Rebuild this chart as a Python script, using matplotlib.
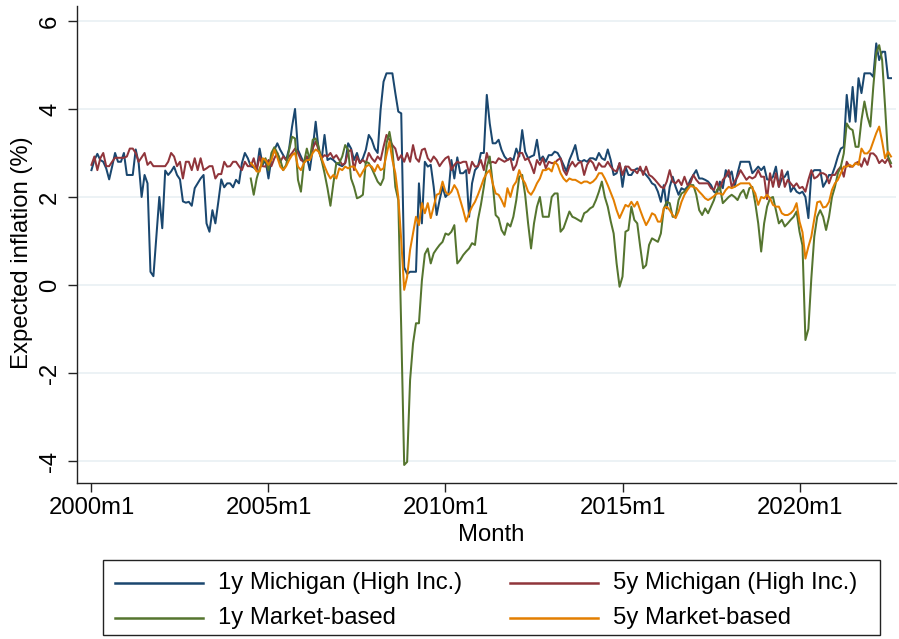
import numpy as np
import matplotlib
matplotlib.use("Agg")
import matplotlib.pyplot as plt
from matplotlib.lines import Line2D
from matplotlib.patches import Rectangle

plt.rcParams['font.family'] = ['Liberation Sans', 'DejaVu Sans']

# ---- data (monthly, 2000m1 .. 2022m8) ----
start_year = 2000
market_start = 54  # first month index with market-based data (2004m7)

mich_1y = [
    2.61, 2.84, 2.98, 2.84, 2.80, 2.65, 2.40, 2.69, 3.00, 2.80,
    2.80, 3.00, 2.50, 2.50, 2.50, 3.08, 2.77, 2.00, 2.50, 2.31,
    0.30, 0.20, 1.10, 2.00, 1.29, 2.60, 2.50, 2.58, 2.69, 2.50,
    2.40, 1.90, 1.87, 1.89, 1.80, 2.20, 2.31, 2.42, 2.50, 1.40,
    1.21, 1.70, 1.40, 1.89, 2.40, 2.22, 2.31, 2.31, 2.22, 2.39,
    2.31, 2.77, 3.00, 2.88, 2.70, 2.67, 2.61, 3.10, 2.73, 2.84,
    2.42, 2.88, 3.07, 3.22, 3.07, 2.95, 2.84, 3.10, 3.60, 4.00,
    3.07, 2.92, 2.77, 2.92, 2.61, 3.10, 3.71, 3.07, 2.84, 3.41,
    2.84, 2.88, 2.84, 2.77, 2.73, 2.70, 2.77, 3.22, 3.10, 2.84,
    3.00, 2.77, 2.88, 3.07, 3.41, 3.30, 3.10, 3.00, 3.98, 4.62,
    4.81, 4.81, 4.81, 4.36, 3.94, 3.90, 0.40, 0.25, 0.30, 0.30,
    0.30, 2.31, 1.40, 2.80, 2.69, 2.73, 2.23, 1.59, 1.93, 2.23,
    2.00, 2.08, 2.84, 2.42, 2.90, 2.54, 2.54, 2.61, 1.55, 2.31,
    2.61, 2.69, 3.00, 3.00, 4.32, 3.67, 3.22, 3.22, 3.30, 3.07,
    2.92, 2.84, 2.88, 2.84, 3.10, 2.92, 3.52, 3.03, 2.88, 2.92,
    2.95, 3.30, 2.84, 2.92, 2.80, 2.95, 2.95, 3.03, 3.00, 2.88,
    2.73, 2.58, 2.84, 3.00, 3.18, 2.84, 2.80, 2.84, 2.80, 2.88,
    2.88, 2.84, 3.00, 2.88, 2.84, 3.08, 2.84, 2.50, 2.54, 2.77,
    2.23, 2.69, 2.50, 2.50, 2.61, 2.65, 2.61, 2.58, 2.50, 2.42,
    2.31, 2.27, 2.12, 1.89, 2.27, 1.74, 2.23, 2.46, 2.23, 2.05,
    2.20, 2.16, 2.23, 2.39, 2.50, 2.61, 2.42, 2.42, 2.39, 2.35,
    2.27, 2.12, 2.08, 2.35, 2.20, 2.61, 2.46, 2.58, 2.23, 2.54,
    2.80, 2.80, 2.80, 2.80, 2.54, 2.61, 2.69, 2.61, 2.69, 2.40,
    2.39, 2.46, 2.69, 2.23, 2.42, 2.46, 2.58, 2.12, 2.23, 2.12,
    2.08, 2.12, 2.00, 1.52, 2.54, 2.61, 2.61, 2.61, 2.23, 2.35,
    2.50, 2.50, 2.69, 2.92, 3.10, 3.14, 4.32, 3.71, 4.50, 3.71,
    4.70, 4.36, 4.81, 4.81, 4.81, 4.73, 5.49, 5.11, 5.30, 5.30,
    4.70, 4.70,
]

mich_5y = [
    2.73, 2.92, 2.61, 2.88, 3.00, 2.70, 2.70, 2.80, 2.89, 2.89,
    2.89, 2.89, 2.92, 3.10, 3.10, 3.00, 2.80, 2.90, 3.00, 2.73,
    2.80, 2.70, 2.70, 2.70, 2.70, 2.70, 2.80, 3.00, 2.92, 2.70,
    2.80, 2.42, 2.80, 2.80, 2.61, 2.88, 2.61, 2.88, 2.61, 2.65,
    2.70, 2.70, 2.42, 2.52, 2.52, 2.80, 2.69, 2.70, 2.80, 2.80,
    2.70, 2.61, 2.80, 2.70, 2.70, 2.88, 2.61, 2.92, 2.70, 2.69,
    2.84, 2.70, 2.88, 3.00, 2.80, 2.92, 2.84, 2.92, 3.00, 3.10,
    3.00, 2.84, 2.80, 2.92, 2.84, 3.10, 3.26, 3.07, 2.88, 2.95,
    2.92, 3.00, 2.88, 2.95, 2.84, 2.73, 2.77, 3.03, 3.07, 2.61,
    2.92, 2.77, 2.84, 2.77, 3.00, 2.88, 2.80, 2.92, 2.84, 3.14,
    3.41, 3.30, 3.18, 3.10, 2.84, 2.95, 2.80, 3.00, 2.80, 3.18,
    2.88, 2.80, 3.07, 3.10, 2.88, 2.80, 2.92, 2.84, 2.70, 2.80,
    2.88, 2.92, 2.61, 2.73, 2.80, 2.77, 2.80, 2.80, 2.54, 2.80,
    2.69, 2.70, 2.84, 2.61, 3.00, 2.77, 2.80, 2.77, 2.88, 2.84,
    2.80, 2.84, 2.88, 2.61, 2.73, 3.00, 3.00, 2.84, 2.88, 2.73,
    2.54, 2.84, 2.73, 2.88, 2.65, 2.80, 2.77, 2.77, 2.84, 2.88,
    2.61, 2.50, 2.69, 2.80, 2.69, 2.77, 2.80, 2.50, 2.73, 2.84,
    2.77, 2.61, 2.77, 2.69, 2.69, 2.80, 2.69, 2.61, 2.58, 2.77,
    2.50, 2.69, 2.69, 2.61, 2.61, 2.54, 2.69, 2.50, 2.69, 2.50,
    2.46, 2.39, 2.31, 2.23, 2.20, 2.35, 2.61, 2.35, 2.31, 2.39,
    2.27, 2.46, 2.27, 2.31, 2.50, 2.39, 2.31, 2.31, 2.31, 2.31,
    2.20, 2.16, 2.35, 2.16, 2.39, 2.46, 2.61, 2.23, 2.35, 2.46,
    2.61, 2.50, 2.39, 2.46, 2.42, 2.46, 2.61, 2.46, 2.46, 1.95,
    2.54, 2.23, 2.54, 2.23, 2.61, 2.23, 2.39, 2.31, 2.23, 2.31,
    2.20, 2.23, 2.12, 2.39, 2.61, 2.42, 2.46, 2.54, 2.54, 2.50,
    2.31, 2.50, 2.50, 2.61, 2.69, 2.46, 2.80, 2.69, 2.69, 2.77,
    2.80, 2.69, 2.88, 2.73, 2.99, 2.99, 2.92, 2.77, 2.84, 2.77,
    2.88, 2.69,
]

market_1y = [
    2.42, 2.05, 2.42, 2.65, 2.77, 2.88,
    2.61, 3.00, 3.13, 3.00, 2.84, 2.61, 2.73, 3.07, 3.37, 3.33,
    2.39, 2.12, 2.77, 3.10, 2.84, 3.30, 3.33, 3.14, 2.84, 2.54,
    2.20, 1.80, 2.31, 2.77, 2.77, 2.92, 3.18, 3.07, 2.42, 2.23,
    1.97, 2.00, 2.05, 2.80, 2.77, 2.65, 2.50, 2.35, 2.27, 2.42,
    3.22, 3.48, 3.10, 2.23, 1.93, -1.00, -4.09, -4.02, -2.16, -1.33,
    -0.87, -0.87, 0.10, 0.70, 0.83, 0.49, 0.72, 0.82, 0.91, 0.98,
    1.17, 1.14, 1.21, 1.36, 0.49, 0.57, 0.68, 0.76, 0.83, 0.95,
    0.91, 1.48, 1.82, 2.23, 2.69, 2.92, 2.31, 1.59, 1.52, 1.25,
    1.14, 1.40, 1.33, 1.55, 1.93, 2.46, 2.50, 2.05, 1.40, 0.83,
    1.40, 1.78, 2.00, 1.55, 1.55, 1.55, 2.00, 2.08, 2.08, 1.21,
    1.29, 1.48, 1.67, 1.55, 1.52, 1.48, 1.44, 1.63, 1.67, 1.74,
    1.78, 1.93, 2.12, 2.35, 2.00, 1.78, 1.45, 1.17, 0.49, -0.04,
    0.19, 1.21, 1.25, 1.78, 1.48, 1.40, 0.87, 0.38, 0.45, 0.91,
    1.06, 1.02, 0.98, 1.17, 1.74, 1.89, 1.86, 1.55, 1.55, 1.93,
    2.08, 2.12, 2.20, 2.27, 2.27, 2.05, 1.70, 1.59, 1.74, 1.63,
    1.78, 1.93, 2.16, 2.23, 1.86, 1.93, 2.00, 2.05, 2.00, 1.93,
    2.08, 2.16, 1.97, 2.20, 2.23, 1.86, 1.40, 0.76, 1.40, 1.78,
    1.97, 2.00, 1.70, 1.40, 1.48, 1.33, 1.40, 1.48, 1.55, 1.67,
    1.21, 0.90, -1.25, -1.00, 0.15, 1.10, 1.55, 1.70, 1.55, 1.25,
    1.55, 2.00, 2.23, 2.54, 2.69, 2.99, 3.67, 3.56, 3.52, 3.14,
    3.14, 3.75, 4.17, 3.83, 3.60, 4.50, 5.27, 5.45, 5.11, 4.05,
    2.92, 2.77,
]

market_5y = [
    2.77, 2.70, 2.58, 2.58, 2.88, 2.84,
    2.73, 2.84, 3.07, 2.90, 2.69, 2.61, 2.70, 2.84, 2.95, 3.00,
    2.69, 2.61, 2.77, 2.84, 2.84, 3.00, 3.08, 3.03, 2.88, 2.70,
    2.54, 2.42, 2.50, 2.42, 2.65, 2.61, 2.69, 2.65, 2.69, 2.69,
    2.58, 2.46, 2.58, 2.69, 2.73, 2.69, 2.58, 2.73, 2.61, 2.65,
    2.95, 3.26, 2.84, 2.54, 2.00, 1.02, -0.11, 0.19, 0.80, 1.17,
    1.55, 1.36, 1.86, 1.63, 1.86, 1.52, 1.78, 2.05, 2.08, 2.35,
    2.12, 2.05, 2.12, 2.27, 2.16, 1.93, 1.70, 1.44, 1.63, 1.78,
    1.89, 2.05, 2.23, 2.42, 2.54, 2.61, 2.31, 2.08, 2.05, 1.93,
    1.78, 2.20, 2.00, 2.25, 2.35, 2.61, 2.42, 2.31, 2.12, 2.05,
    2.16, 2.31, 2.42, 2.61, 2.61, 2.65, 2.58, 2.80, 2.73, 2.54,
    2.42, 2.35, 2.42, 2.39, 2.39, 2.35, 2.31, 2.35, 2.35, 2.31,
    2.35, 2.42, 2.54, 2.54, 2.42, 2.27, 2.10, 1.93, 1.70, 1.52,
    1.67, 1.82, 1.78, 1.89, 1.78, 1.89, 1.70, 1.52, 1.36, 1.48,
    1.63, 1.59, 1.44, 1.44, 1.74, 1.78, 1.70, 1.59, 1.52, 1.67,
    1.89, 2.05, 2.16, 2.25, 2.23, 2.20, 2.12, 2.05, 1.97, 1.93,
    1.97, 2.02, 2.08, 2.08, 2.05, 2.16, 2.23, 2.20, 2.23, 2.27,
    2.31, 2.31, 2.31, 2.31, 2.20, 2.08, 1.82, 2.00, 1.97, 2.05,
    1.97, 1.82, 1.78, 1.78, 1.63, 1.59, 1.59, 1.63, 1.70, 1.86,
    1.44, 1.20, 0.60, 0.87, 1.10, 1.50, 1.88, 1.90, 1.76, 1.78,
    1.89, 2.16, 2.31, 2.39, 2.54, 2.69, 2.69, 2.73, 2.69, 2.77,
    2.73, 3.10, 2.99, 2.99, 3.07, 3.26, 3.45, 3.60, 3.26, 2.88,
    3.03, 2.92,
]

series_labels = ["1y Michigan (High Inc.)", "5y Michigan (High Inc.)",
                 "1y Market-based", "5y Market-based"]
x_tick_labels = ["2000m1", "2005m1", "2010m1", "2015m1", "2020m1"]
y_ticks = [-4, -2, 0, 2, 4, 6]
y_tick_labels = ["-4", "-2", "0", "2", "4", "6"]

colors = ["#1a476f", "#90353b", "#55752f", "#e37e00"]

# ---- figure ----
W, H = 899, 639
fig = plt.figure(figsize=(W / 100, H / 100), dpi=100)

def fx(px):
    return px / W

def fy(py):
    return 1 - py / H

ax_l, ax_r, ax_t, ax_b = 77, 896, 6, 483
ax = fig.add_axes([fx(ax_l), fy(ax_b), (ax_r - ax_l) / W, (ax_b - ax_t) / H])

t_all = np.arange(len(mich_1y))
t_mkt = np.arange(market_start, market_start + len(market_1y))

lw = 1.45
ax.plot(t_all, mich_1y, color=colors[0], lw=lw, solid_joinstyle='round')
ax.plot(t_all, mich_5y, color=colors[1], lw=lw, solid_joinstyle='round')
ax.plot(t_mkt, market_1y, color=colors[2], lw=lw, solid_joinstyle='round')
ax.plot(t_mkt, market_5y, color=colors[3], lw=lw, solid_joinstyle='round')

ax.set_xlim(-4.9, 272.7)
ax.set_ylim(-4.5, 6.34)

ax.set_xticks([0, 60, 120, 180, 240])
ax.set_xticklabels(x_tick_labels)
ax.set_yticks(y_ticks)
ax.set_yticklabels(y_tick_labels, rotation=90, va='center')

ax.yaxis.grid(True, color='#e9f0f3', linewidth=1.2)
ax.set_axisbelow(True)

for s in ['top', 'right']:
    ax.spines[s].set_visible(False)
for s in ['left', 'bottom']:
    ax.spines[s].set_color('#222222')
    ax.spines[s].set_linewidth(1.0)

fs = 17.2
ax.tick_params(axis='both', length=6.5, width=1.0, color='#222222',
               labelsize=fs, labelcolor='black')
ax.tick_params(axis='x', pad=3.5)
ax.tick_params(axis='y', pad=5)

fig.text(fx(22), fy(253), "Expected inflation (%)", rotation=90,
         ha='center', va='center', fontsize=fs)
fig.text(fx(491), fy(535), "Month", ha='center', va='center', fontsize=fs)

# ---- legend box ----
fig.patches.append(Rectangle((fx(103), fy(635)), (880 - 103) / W, (635 - 560) / H,
                             transform=fig.transFigure, fill=False,
                             edgecolor='#222222', linewidth=1.0))
rows = [583, 618]
cols = [(115, 203, 218), (510, 598, 613)]
order = [(0, 0), (0, 1), (1, 0), (1, 1)]
for i, (r, c) in enumerate(order):
    x0, x1, xt = cols[c]
    y = rows[r]
    fig.lines.append(Line2D([fx(x0), fx(x1)], [fy(y), fy(y)], transform=fig.transFigure,
                            color=colors[i], lw=1.8))
    fig.text(fx(xt), fy(y), series_labels[i], ha='left', va='center', fontsize=fs)

fig.savefig("out.png", dpi=100)
